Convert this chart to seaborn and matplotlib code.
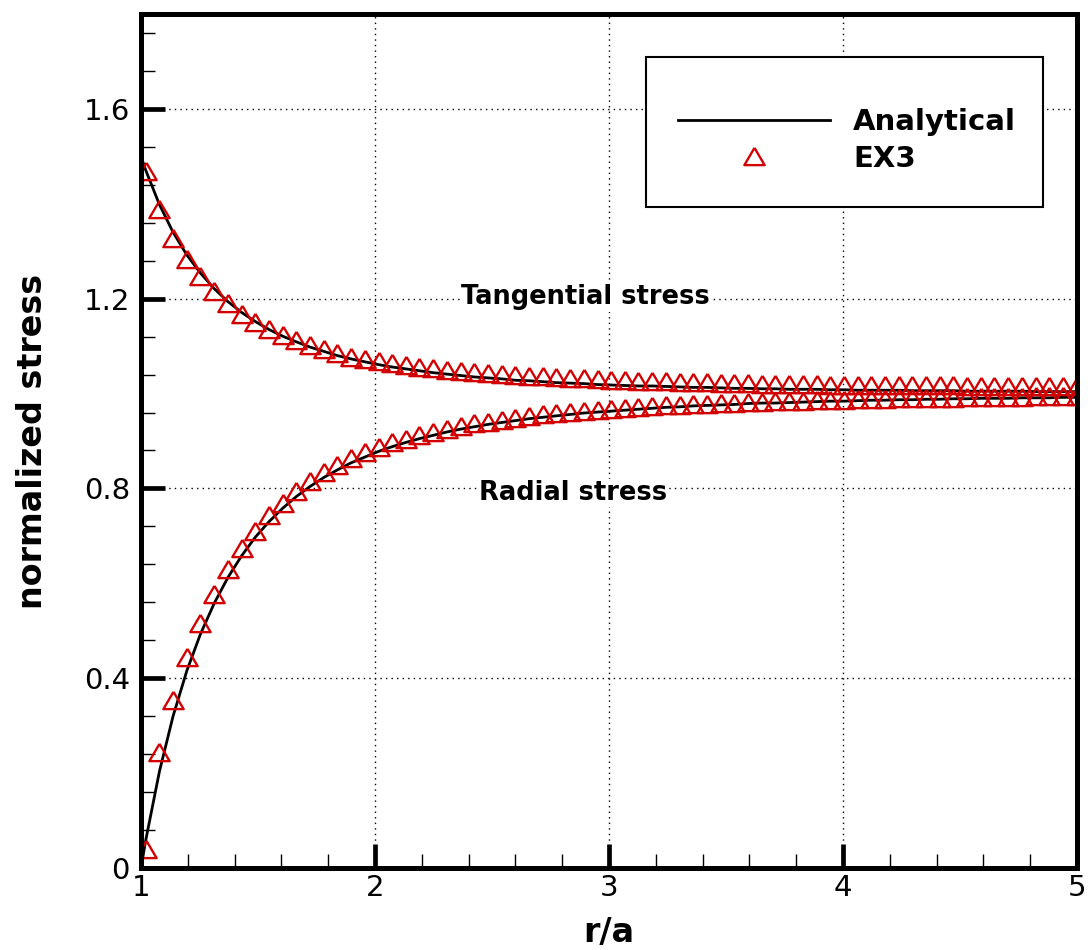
import matplotlib
matplotlib.use("Agg")
import matplotlib.pyplot as plt
import seaborn as sns
import pandas as pd
from matplotlib.patches import Rectangle
from matplotlib.ticker import FixedLocator, FixedFormatter, MultipleLocator

# ---------------- data ----------------
r_analytical = [
    1.000, 1.020, 1.079, 1.137, 1.196, 1.254, 1.313, 1.371, 1.430, 1.488,
    1.547, 1.605, 1.664, 1.722, 1.781, 1.839, 1.898, 1.956, 2.015, 2.073,
    2.132, 2.190, 2.249, 2.307, 2.366, 2.424, 2.483, 2.541, 2.600, 2.658,
    2.717, 2.775, 2.834, 2.892, 2.951, 3.009, 3.068, 3.126, 3.185, 3.243,
    3.302, 3.360, 3.419, 3.477, 3.536, 3.594, 3.653, 3.711, 3.770, 3.828,
    3.887, 3.945, 4.004, 4.062, 4.121, 4.179, 4.238, 4.296, 4.355, 4.413,
    4.472, 4.530, 4.589, 4.647, 4.706, 4.764, 4.823, 4.881, 4.940, 5.000,
]
tangential_analytical = [
    1.500, 1.471, 1.398, 1.340, 1.292, 1.254, 1.221, 1.194, 1.171, 1.152,
    1.135, 1.121, 1.109, 1.098, 1.089, 1.080, 1.073, 1.067, 1.061, 1.056,
    1.052, 1.048, 1.044, 1.041, 1.038, 1.035, 1.033, 1.031, 1.028, 1.027,
    1.025, 1.023, 1.022, 1.021, 1.019, 1.018, 1.017, 1.016, 1.016, 1.015,
    1.014, 1.013, 1.013, 1.012, 1.011, 1.011, 1.010, 1.010, 1.009, 1.009,
    1.009, 1.008, 1.008, 1.007, 1.007, 1.007, 1.007, 1.006, 1.006, 1.006,
    1.006, 1.005, 1.005, 1.005, 1.005, 1.005, 1.004, 1.004, 1.004, 1.004,
]
radial_analytical = [
    0.000, 0.058, 0.204, 0.320, 0.416, 0.493, 0.558, 0.612, 0.658, 0.697,
    0.730, 0.758, 0.783, 0.804, 0.823, 0.839, 0.854, 0.866, 0.878, 0.888,
    0.897, 0.905, 0.912, 0.919, 0.925, 0.930, 0.935, 0.939, 0.943, 0.947,
    0.950, 0.953, 0.956, 0.959, 0.961, 0.963, 0.965, 0.967, 0.969, 0.971,
    0.972, 0.974, 0.975, 0.976, 0.977, 0.979, 0.980, 0.980, 0.981, 0.982,
    0.983, 0.984, 0.984, 0.985, 0.986, 0.986, 0.987, 0.987, 0.988, 0.988,
    0.989, 0.989, 0.990, 0.990, 0.990, 0.991, 0.991, 0.991, 0.992, 0.992,
]

r_ex3 = [
    1.020, 1.079, 1.137, 1.196, 1.254, 1.313, 1.371, 1.430, 1.488, 1.547,
    1.605, 1.664, 1.722, 1.781, 1.839, 1.898, 1.956, 2.015, 2.073, 2.132,
    2.190, 2.249, 2.307, 2.366, 2.424, 2.483, 2.541, 2.600, 2.658, 2.717,
    2.775, 2.834, 2.892, 2.951, 3.009, 3.068, 3.126, 3.185, 3.243, 3.302,
    3.360, 3.419, 3.477, 3.536, 3.594, 3.653, 3.711, 3.770, 3.828, 3.887,
    3.945, 4.004, 4.062, 4.121, 4.179, 4.238, 4.296, 4.355, 4.413, 4.472,
    4.530, 4.589, 4.647, 4.706, 4.764, 4.823, 4.881, 4.940, 5.000,
]
tangential_ex3 = [
    1.470, 1.388, 1.327, 1.284, 1.248, 1.217, 1.191, 1.168, 1.151, 1.137,
    1.124, 1.113, 1.103, 1.094, 1.086, 1.078, 1.073, 1.068, 1.064, 1.060,
    1.057, 1.053, 1.050, 1.048, 1.046, 1.044, 1.042, 1.039, 1.038, 1.036,
    1.034, 1.033, 1.032, 1.030, 1.029, 1.028, 1.027, 1.027, 1.026, 1.025,
    1.024, 1.024, 1.023, 1.022, 1.022, 1.021, 1.021, 1.020, 1.020, 1.020,
    1.019, 1.019, 1.018, 1.018, 1.018, 1.018, 1.017, 1.017, 1.017, 1.017,
    1.016, 1.016, 1.016, 1.016, 1.016, 1.015, 1.015, 1.015, 1.015,
]
radial_ex3 = [
    0.041, 0.245, 0.355, 0.445, 0.517, 0.578, 0.630, 0.674, 0.711, 0.743,
    0.770, 0.794, 0.816, 0.834, 0.850, 0.864, 0.876, 0.887, 0.897, 0.905,
    0.913, 0.920, 0.926, 0.932, 0.937, 0.941, 0.945, 0.949, 0.953, 0.956,
    0.959, 0.961, 0.964, 0.966, 0.968, 0.970, 0.972, 0.973, 0.975, 0.976,
    0.978, 0.979, 0.980, 0.981, 0.982, 0.983, 0.984, 0.985, 0.985, 0.986,
    0.987, 0.987, 0.988, 0.989, 0.989, 0.990, 0.990, 0.991, 0.991, 0.991,
    0.992, 0.992, 0.993, 0.993, 0.993, 0.994, 0.994, 0.994, 0.995,
]

x_ticks = [1, 2, 3, 4, 5]
x_tick_labels = ["1", "2", "3", "4", "5"]
y_ticks = [0.0, 0.4, 0.8, 1.2, 1.6]
y_tick_labels = ["0", "0.4", "0.8", "1.2", "1.6"]

series_labels = ["Analytical", "EX3"]
annotation_texts = ["Tangential stress", "Radial stress"]

# ---------------- styling ----------------
plt.rcParams["font.family"] = ["DejaVu Sans"]
RED = "#D20000"
TRI = [(0, 0.85), (-1, -0.85), (1, -0.85), (0, 0.85)]

df_an = pd.DataFrame({"r": r_analytical, "tangential": tangential_analytical,
                      "radial": radial_analytical})
df_ex = pd.DataFrame({"r": r_ex3, "tangential": tangential_ex3, "radial": radial_ex3})

fig = plt.figure(figsize=(10.91, 9.5), dpi=100)
ax = fig.add_axes([141 / 1091, (950 - 868) / 950, 936 / 1091, 854 / 950])

line_kws = dict(color="black", linewidth=2.0, estimator=None, sort=False, ax=ax)
sns.lineplot(data=df_an, x="r", y="tangential", label=series_labels[0], **line_kws)
sns.lineplot(data=df_an, x="r", y="radial", **line_kws)

mark_kws = dict(linestyle="none", marker=TRI, markersize=14.6, markerfacecolor="none",
                markeredgecolor=RED, markeredgewidth=1.7, color=RED,
                estimator=None, sort=False, ax=ax)
sns.lineplot(data=df_ex, x="r", y="tangential", label=series_labels[1], **mark_kws)
sns.lineplot(data=df_ex, x="r", y="radial", **mark_kws)

ax.set_xlim(1, 5)
ax.set_ylim(0, 1.8)

ax.xaxis.set_major_locator(FixedLocator(x_ticks))
ax.xaxis.set_major_formatter(FixedFormatter(x_tick_labels))
ax.yaxis.set_major_locator(FixedLocator(y_ticks))
ax.yaxis.set_major_formatter(FixedFormatter(y_tick_labels))
ax.xaxis.set_minor_locator(MultipleLocator(0.2))
ax.yaxis.set_minor_locator(MultipleLocator(0.08))

ax.tick_params(which="major", direction="in", length=17, width=3.4, labelsize=21,
               top=False, right=False, colors="black")
ax.tick_params(which="minor", direction="in", length=10, width=1.0, top=False, right=False)
ax.tick_params(axis="y", which="major", pad=8)
ax.tick_params(axis="x", which="major", pad=4)

for sp in ax.spines.values():
    sp.set_linewidth(3.6)
    sp.set_color("black")

ax.set_axisbelow(True)
ax.grid(True, which="major", color="black", linestyle=(0, (1, 3)), linewidth=1.0)

ax.set_xlabel("r/a", fontsize=24, fontweight="bold", va="center")
ax.xaxis.set_label_coords(0.5, -0.075)
ax.set_ylabel("normalized stress", fontsize=24, fontweight="bold", va="center")
ax.yaxis.set_label_coords(-0.1154, 0.5)

txt_bbox = dict(facecolor="white", edgecolor="none", pad=1)
ax.text(2.90, 1.203, annotation_texts[0], ha="center", va="center",
        fontsize=18.5, fontweight="bold", bbox=txt_bbox, zorder=1.5)
ax.text(2.846, 0.790, annotation_texts[1], ha="center", va="center",
        fontsize=18.5, fontweight="bold", bbox=txt_bbox, zorder=1.5)

# legend frame (box) and frameless legend inside it
ax.add_patch(Rectangle((0.5395, 0.774), 0.4241, 0.1756, transform=ax.transAxes,
                       facecolor="white", edgecolor="black", linewidth=1.5, zorder=4))
handles, labels = ax.get_legend_handles_labels()
leg = ax.legend(handles, labels, loc="upper left", bbox_to_anchor=(0.5737, 0.890),
                borderaxespad=0, borderpad=0, frameon=False,
                prop={"weight": "bold", "size": 21}, handlelength=5.2,
                handletextpad=0.8, labelspacing=0.3)
leg.set_zorder(5)

fig.savefig("out.png", dpi=100)
